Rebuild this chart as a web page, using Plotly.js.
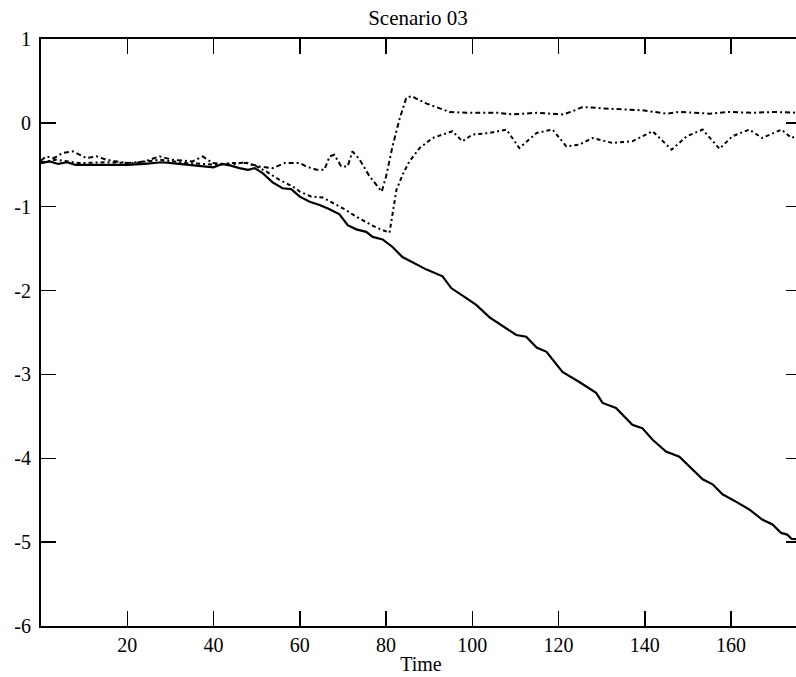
<!DOCTYPE html>
<html>
<head>
<meta charset="utf-8">
<script src="https://cdn.plot.ly/plotly-3.0.1.min.js"></script>
<style>
html,body{margin:0;padding:0;overflow:hidden;background:#fff;}
#chart{width:806px;height:677px;}
</style>
</head>
<body>
<div id="chart"></div>
<script>
// Solid series
const solidT = [0,2,4,6,8,12,16,20,24,28,32,36,40,42,44,46,48,49.5,51.4,53.7,56,58,60,62.3,64.6,66.9,69.2,71.1,73.1,75.4,76.9,79.2,81.5,83.8,86.1,89.4,93.1,95.1,98.6,100.9,104,107.9,110.2,112.5,114.9,117.2,120.9,124.8,128.7,130.2,133.3,137.1,139.4,141.8,144.9,148,151,153.4,155.7,158,161.2,164.2,167.2,169.6,171.6,173,174,176];
const solidV = [-0.48,-0.46,-0.49,-0.47,-0.5,-0.5,-0.5,-0.5,-0.49,-0.47,-0.49,-0.51,-0.53,-0.49,-0.51,-0.54,-0.56,-0.54,-0.6,-0.71,-0.78,-0.79,-0.88,-0.94,-0.98,-1.03,-1.09,-1.22,-1.27,-1.30,-1.36,-1.39,-1.48,-1.6,-1.66,-1.75,-1.83,-1.97,-2.09,-2.17,-2.32,-2.45,-2.53,-2.55,-2.68,-2.73,-2.97,-3.09,-3.22,-3.34,-3.40,-3.6,-3.64,-3.78,-3.92,-3.98,-4.13,-4.25,-4.31,-4.43,-4.52,-4.61,-4.73,-4.79,-4.89,-4.91,-4.96,-4.97];

// Upper dash-dot series
const upperT = [0,1.2,3,5,7.4,10.5,12.9,15.2,19.8,24,27.5,30.5,35.1,37.5,39.8,44,47.2,50.6,53.7,56.5,60,61.5,63.9,65.7,66.9,68,69.6,71.1,72.2,73.9,76.2,79,80,81.5,83.1,84.7,86,87,89.4,94.7,98.6,106,109.3,114.9,121,123.3,125.6,131,139.4,145,148,155,159.6,164.9,170,176];
const upperV = [-0.45,-0.40,-0.42,-0.36,-0.34,-0.42,-0.40,-0.44,-0.48,-0.46,-0.40,-0.44,-0.46,-0.40,-0.48,-0.5,-0.47,-0.52,-0.54,-0.48,-0.48,-0.52,-0.56,-0.56,-0.40,-0.38,-0.52,-0.52,-0.34,-0.44,-0.64,-0.82,-0.64,-0.28,0.04,0.30,0.32,0.29,0.23,0.13,0.12,0.12,0.10,0.12,0.10,0.14,0.19,0.17,0.15,0.11,0.13,0.11,0.13,0.12,0.13,0.12];

// Lower dash-dot series
const lowerT = [0,3.6,9,15,21.3,27.5,33.7,41.4,43.7,47.6,50,52.2,55.3,58.4,60,62.7,65.3,67.6,70.4,73.1,75.4,77.8,80.8,81.5,82.4,84,85.4,87.8,90.8,95.4,97.7,100,104,107.9,110.9,114.9,118.6,121.8,124.8,127.9,132.5,137.1,141.8,146.2,149.7,153.4,157.3,160.3,164.2,167.2,171.7,174,176];
const lowerV = [-0.47,-0.44,-0.48,-0.47,-0.48,-0.44,-0.48,-0.5,-0.48,-0.48,-0.52,-0.58,-0.68,-0.76,-0.82,-0.88,-0.89,-0.95,-1.03,-1.12,-1.18,-1.25,-1.31,-1.07,-0.80,-0.6,-0.46,-0.30,-0.18,-0.10,-0.22,-0.14,-0.12,-0.08,-0.30,-0.12,-0.08,-0.28,-0.26,-0.18,-0.24,-0.22,-0.10,-0.32,-0.16,-0.08,-0.31,-0.16,-0.08,-0.18,-0.08,-0.18,-0.14];

const xTicks = [20,40,60,80,100,120,140,160];
const yTicks = [-6,-5,-4,-3,-2,-1,0,1];
const yTickText = ['-6','-5','-4','-3','-2','-1','0','1'];

const FONT = 'Liberation Serif, Times New Roman, serif';

const traces = [
  {x: solidT, y: solidV, mode: 'lines', line: {color: '#000', width: 2.2}, name: 's'},
  {x: upperT, y: upperV, mode: 'lines', line: {color: '#000', width: 2, dash: '5px,3px,2px,3px'}, name: 'u'},
  {x: lowerT, y: lowerV, mode: 'lines', line: {color: '#000', width: 2, dash: '4px,3px,2px,3px'}, name: 'l'}
];

const layout = {
  width: 806, height: 677,
  margin: {l: 41, r: 5, t: 39, b: 51},
  paper_bgcolor: '#fff', plot_bgcolor: '#fff',
  showlegend: false,
  font: {family: FONT, size: 20, color: '#000'},
  title: {text: 'Scenario 03', font: {family: FONT, size: 21, color: '#000'}, xref: 'container', x: 418/806, xanchor: 'center', yref: 'container', y: 1 - 18/677, yanchor: 'middle'},
  xaxis: {
    range: [0, 176.2], tickvals: xTicks, ticks: 'inside', ticklen: 15, tickwidth: 1.5, tickcolor: '#000',
    showline: true, linecolor: '#000', linewidth: 2, mirror: 'ticks', showgrid: false, zeroline: false,
    tickfont: {family: FONT, size: 20, color: '#000'},
    title: {text: 'Time', font: {family: FONT, size: 20, color: '#000'}, standoff: 2}
  },
  yaxis: {
    range: [-6, 1], tickvals: yTicks, ticktext: yTickText, ticks: 'inside', ticklen: 15, tickwidth: 1.5, tickcolor: '#000',
    showline: true, linecolor: '#000', linewidth: 2, mirror: 'ticks', showgrid: false, zeroline: false,
    tickfont: {family: FONT, size: 20, color: '#000'}, ticklabelstandoff: 4
  }
};

Plotly.newPlot('chart', traces, layout, {displayModeBar: false, staticPlot: true});
</script>
</body>
</html>
